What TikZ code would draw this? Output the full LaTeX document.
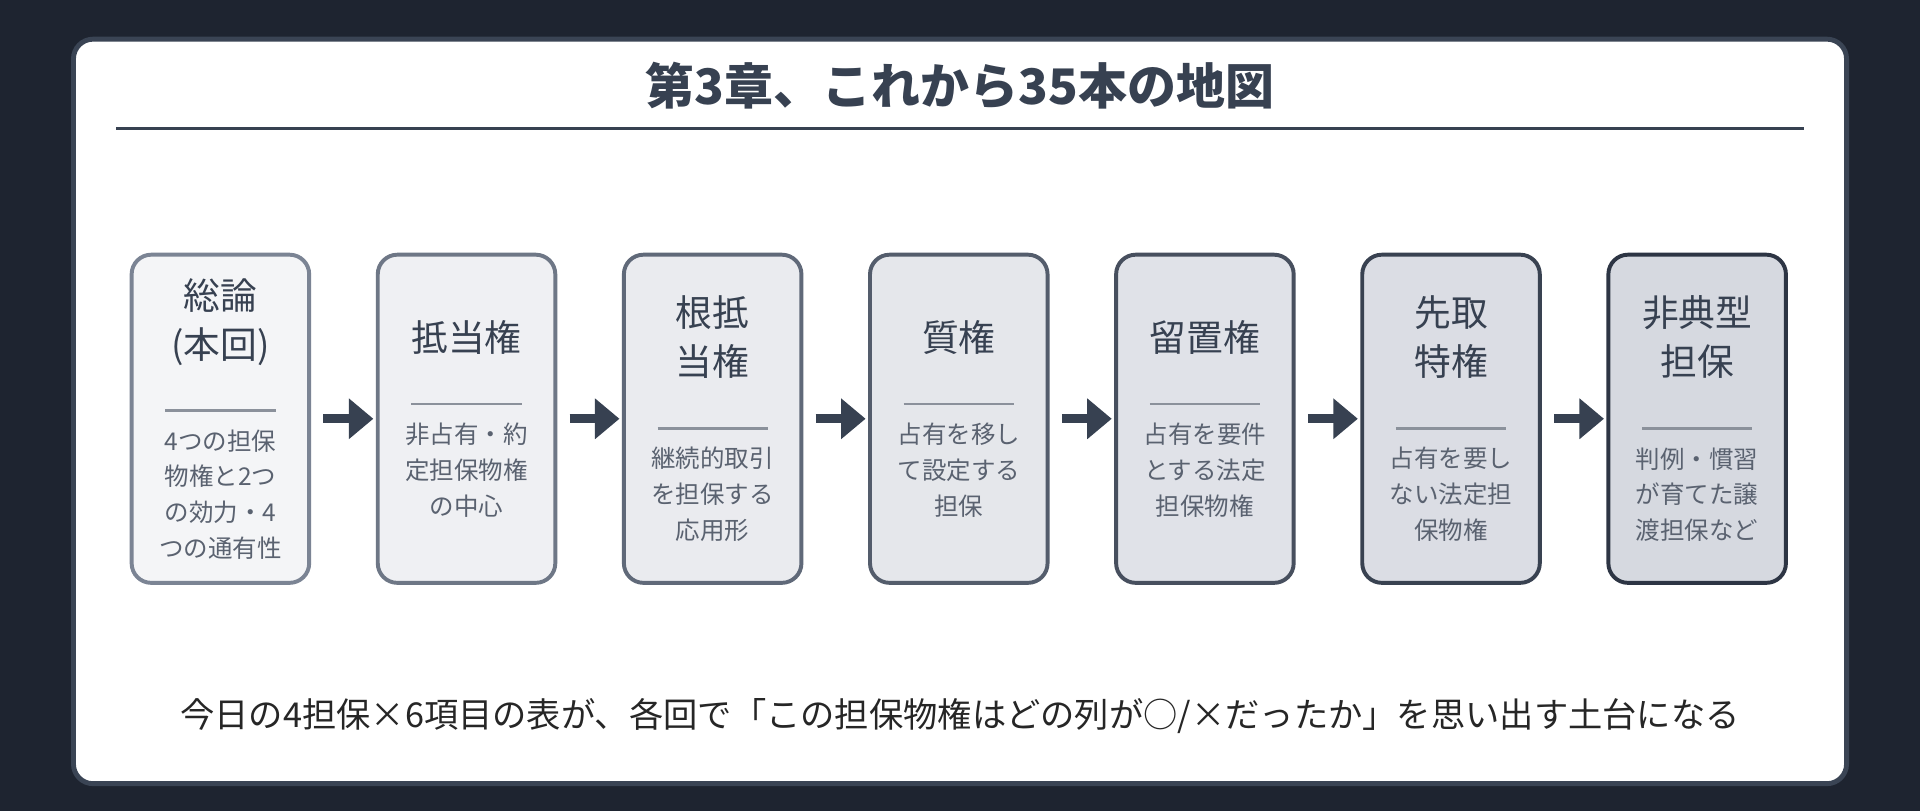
\documentclass[tikz,border=0pt]{standalone}
\usepackage{fontspec}
\setmainfont{Noto Sans CJK JP}
\usetikzlibrary{arrows.meta}
\definecolor{bgdark}{HTML}{1E2430}
\definecolor{cardedge}{HTML}{3A4454}
\definecolor{inkdark}{HTML}{374151}
\definecolor{inkgray}{HTML}{5A6270}
\definecolor{boxA}{HTML}{F4F5F7}
\definecolor{boxB}{HTML}{D6D9E0}
\definecolor{edgeA}{HTML}{7B8494}
\definecolor{edgeB}{HTML}{2D3544}
\tikzset{
  stage/.style={draw, line width=1.6pt, rounded corners=8pt, minimum width=72.5pt,
    minimum height=134pt, text width=62pt, inner sep=0pt},
  flow/.style={line width=3.5pt, draw=inkdark, -{Triangle[length=10pt,width=16pt]}},
}
\newcommand{\stagetext}[2]{\centering\color{inkdark}\fontsize{15pt}{20pt}\selectfont #1\par
  \vspace{2pt}{\color{inkgray!70}\rule{45pt}{1pt}}\par\vspace{1pt}
  \color{inkgray}\fontsize{10pt}{14.6pt}\selectfont #2\par}
\begin{document}
\begin{tikzpicture}[x=0.5pt,y=-0.5pt]
    \useasboundingbox (0,0) rectangle (1568,662);
    \fill[bgdark] (0,0) rectangle (1568,662);
    % card
    \draw[fill=white, draw=cardedge, line width=2pt, rounded corners=8pt] (60,32) rectangle (1508,640);
    \node[font=\fontsize{20pt}{24pt}\selectfont\bfseries, text=inkdark] (title) at (784,70) {第3章、これから35本の地図};
    \draw[inkdark, line width=1pt] (95,105) -- (1473,105);

    % stages
    \foreach \i/\head/\desc in {
        1/{総論\\(本回)}/{4つの担保\\物権と2つ\\の効力・4\\つの通有性},
        2/{抵当権}/{非占有・約\\定担保物権\\の中心},
        3/{根抵\\当権}/{継続的取引\\を担保する\\応用形},
        4/{質権}/{占有を移し\\て設定する\\担保},
        5/{留置権}/{占有を要件\\とする法定\\担保物権},
        6/{先取\\特権}/{占有を要し\\ない法定担\\保物権},
        7/{非典型\\担保}/{判例・慣習\\が育てた譲\\渡担保など}}{
        \pgfmathtruncatemacro{\p}{100-(\i-1)*100/6}
        \node[stage, fill=boxA!\p!boxB, draw=edgeA!\p!edgeB] (S-\i) at (180+201*\i-201,342) {\stagetext{\head}{\desc}};
    }

    % arrows
    \foreach \i [evaluate=\i as \j using int(\i+1)] in {1,...,6}
        \draw[flow] ([xshift=5pt]S-\i.east) -- ([xshift=-1pt]S-\j.west);

    \node[font=\fontsize{14pt}{17pt}\selectfont, text=black!85] (note) at (784,585)
        {今日の4担保×6項目の表が、各回で「この担保物権はどの列が○/×だったか」を思い出す土台になる};
\end{tikzpicture}
\end{document}
